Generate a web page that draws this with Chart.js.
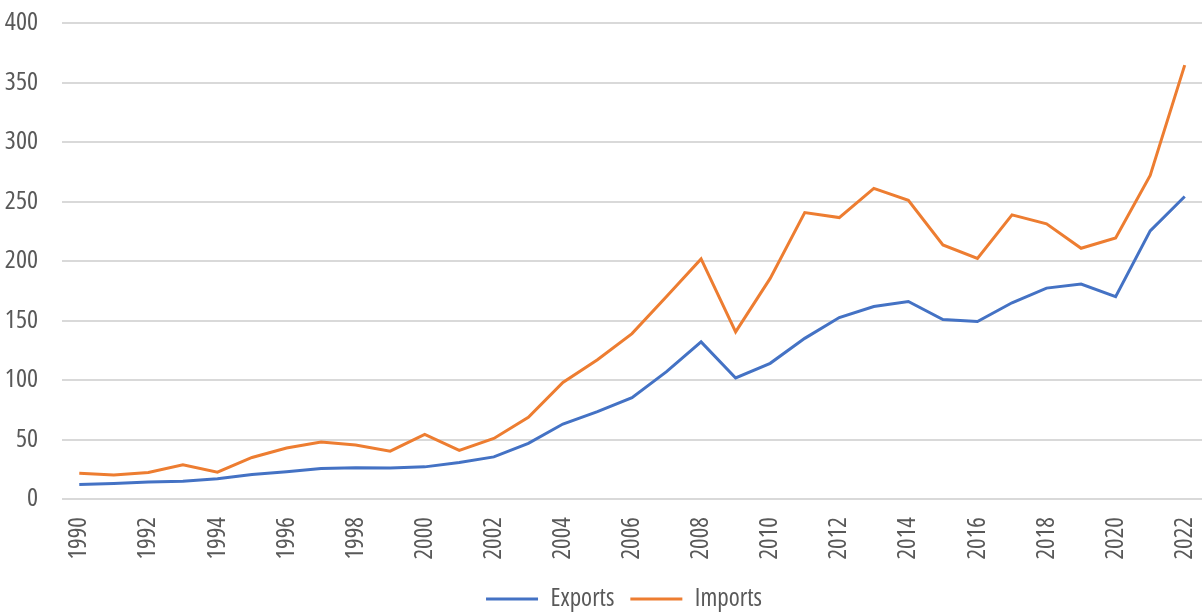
<!DOCTYPE html>
<html>
<head>
<meta charset="utf-8">
<script src="https://cdn.jsdelivr.net/npm/chart.js@4.4.1/dist/chart.umd.min.js"></script>
<style>
  html, body { margin: 0; padding: 0; background: #ffffff; }
  #wrap { width: 1202px; height: 616px; position: relative; }
</style>
</head>
<body>
<div id="wrap"><canvas id="c" width="1202" height="616"></canvas></div>
<script>
const years = ["1990","1991","1992","1993","1994","1995","1996","1997","1998","1999","2000","2001","2002","2003","2004","2005","2006","2007","2008","2009","2010","2011","2012","2013","2014","2015","2016","2017","2018","2019","2020","2021","2022"];
const exportsData = [12.1, 13, 14.3, 15, 17, 20.5, 22.8, 25.6, 26.2, 26, 27, 30.7, 35.4, 46.7, 63, 73.4, 85.2, 107, 132, 101.7, 114, 135, 152.5, 161.8, 166, 150.8, 149.2, 164.9, 177.2, 180.6, 170, 225.3, 254.2];
const importsData = [21.7, 20.2, 22.2, 28.7, 22.5, 34.9, 42.8, 47.8, 45.3, 40.2, 54.3, 40.8, 50.9, 68.6, 97.9, 117, 139, 170.2, 201.7, 140.4, 185.4, 240.7, 236.5, 261, 251, 213.5, 202.2, 238.8, 231.2, 210.7, 219.4, 271.9, 364.6];
const seriesNames = ["Exports", "Imports"];
const yTicks = { min: 0, max: 400, step: 50 };

const FONT = '"Open Sans", sans-serif';
const STRETCH = 'condensed';
const TEXT = '#595959';
const LEGEND_PAD = 16;

const layoutNudge = {
  id: 'layoutNudge',
  afterLayout(chart) {
    const lg = chart.legend;
    if (lg) {
      const dy = (600 - 13.5 - LEGEND_PAD) - lg.top;
      lg.top += dy; lg.bottom += dy;
      lg.left += 23; lg.right += 23;
    }
    // let rotated x labels extend below the (short) axis box without being clipped
    if (chart.scales.x) chart.scales.x.bottom = chart.height;
  }
};

new Chart(document.getElementById('c'), {
  type: 'line',
  data: {
    labels: years,
    datasets: [
      { label: seriesNames[0], data: exportsData, borderColor: '#4472C4', backgroundColor: '#4472C4', borderWidth: 3, pointRadius: 0, pointStyle: 'line', tension: 0 },
      { label: seriesNames[1], data: importsData, borderColor: '#ED7D31', backgroundColor: '#ED7D31', borderWidth: 3, pointRadius: 0, pointStyle: 'line', tension: 0 }
    ]
  },
  plugins: [layoutNudge],
  options: {
    responsive: false,
    animation: false,
    layout: { padding: { top: 23, right: 0, left: 0, bottom: 0 } },
    scales: {
      x: {
        offset: true,
        grid: { display: false, drawTicks: false },
        border: { display: false },
        ticks: {
          autoSkip: false,
          maxRotation: 90, minRotation: 90,
          padding: 18,
          color: TEXT,
          font: { family: FONT, size: 25, weight: STRETCH },
          callback: function(v, i) { return i % 2 === 0 ? this.getLabelForValue(v) : ''; }
        },
        afterFit: (s) => { s.height = 66; s.paddingLeft = 0; s.paddingRight = 0; }
      },
      y: {
        min: yTicks.min, max: yTicks.max,
        grid: { color: '#d9d9d9', lineWidth: 2, drawTicks: false },
        border: { display: false },
        ticks: { stepSize: yTicks.step, padding: 24, color: TEXT, font: { family: FONT, size: 26, weight: STRETCH } },
        afterFit: (s) => { s.width = 62; s.paddingTop = 0; s.paddingBottom = 0; }
      }
    },
    plugins: {
      legend: {
        position: 'bottom',
        labels: {
          usePointStyle: true,
          pointStyleWidth: 52,
          boxHeight: 3,
          padding: LEGEND_PAD,
          color: TEXT,
          font: { family: FONT, size: 25, weight: STRETCH }
        }
      },
      tooltip: { enabled: false }
    }
  }
});
</script>
</body>
</html>
